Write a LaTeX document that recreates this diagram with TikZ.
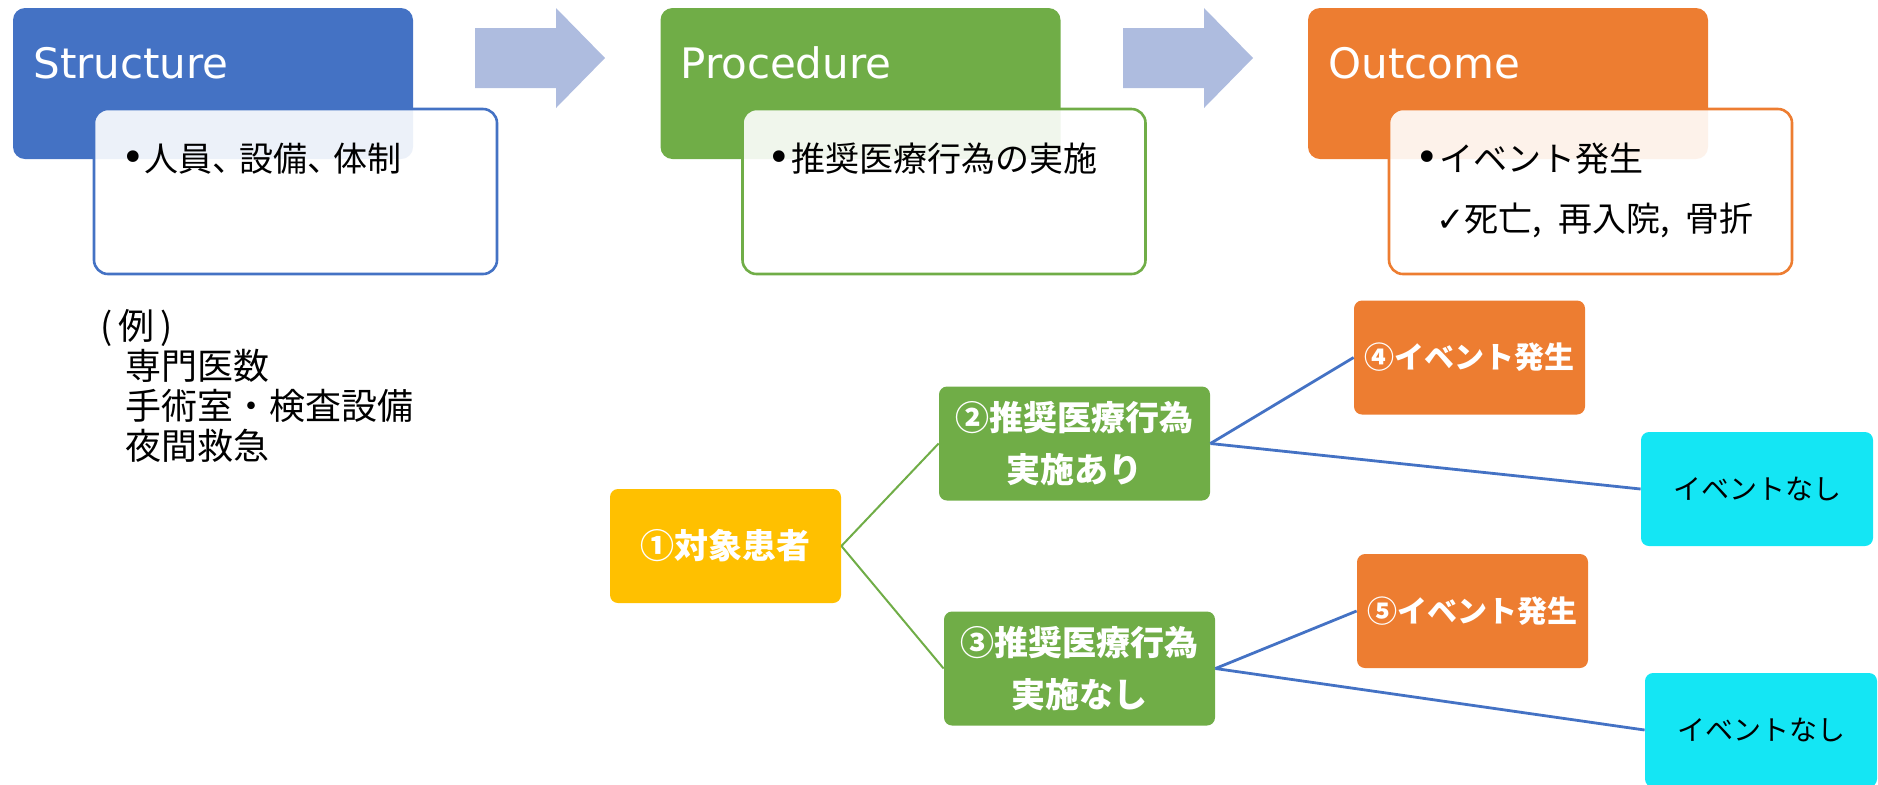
\documentclass[tikz,border=0pt]{standalone}
\usepackage{fontspec}
\setmainfont{DejaVu Sans}
\newfontfamily\jp{Noto Sans CJK JP}

\definecolor{sblue}{HTML}{4472C4}
\definecolor{pgreen}{HTML}{70AD47}
\definecolor{oorange}{HTML}{ED7D31}
\definecolor{arrowblue}{HTML}{AEBCDF}
\definecolor{pyellow}{HTML}{FFC000}
\definecolor{ncyan}{HTML}{14E6F4}

\newcommand{\blt}{{\rmfamily\fontsize{20pt}{20pt}\selectfont •}}

\tikzset{
  headbox/.style={fill=#1, rounded corners=6pt, minimum width=200pt, minimum height=75.5pt, inner sep=0pt},
  subbox/.style={draw=#1, line width=1.3pt, fill=white, fill opacity=0.9, rounded corners=7pt,
    minimum width=201.5pt, minimum height=82.5pt, inner sep=0pt},
  title/.style={anchor=base west, inner sep=0pt, text=white, font=\fontsize{21pt}{25pt}\selectfont},
  item/.style={anchor=base west, inner sep=0pt, font=\jp\fontsize{17pt}{20pt}\selectfont},
  exline/.style={anchor=base west, inner sep=0pt, font=\jp\fontsize{18pt}{20pt}\selectfont},
  treebox/.style={fill=#1, rounded corners=4pt, minimum width=115.5pt, minimum height=57pt, inner sep=0pt,
    align=center, text=white, font=\jp\bfseries\fontsize{17pt}{26pt}\selectfont},
  nonebox/.style={fill=ncyan, rounded corners=4pt, minimum width=116pt, minimum height=57pt, inner sep=0pt,
    font=\jp\fontsize{14pt}{17pt}\selectfont},
}

\begin{document}
\begin{tikzpicture}[x=0.5pt, y=-0.5pt]
\useasboundingbox (0,0) rectangle (1878,784);

% Top row
\node[headbox=sblue] (S) at (213,83.5) {};
\node[headbox=pgreen] (P) at (860.5,83.5) {};
\node[headbox=oorange] (O) at (1508,83.5) {};

\node[subbox=sblue] (Ssub) at (295.5,191.5) {};
\node[subbox=pgreen] (Psub) at (944,191.5) {};
\node[subbox=oorange] (Osub) at (1590.5,191.5) {};

\foreach \x in {475,1123}
  \fill[arrowblue] (\x,28) -- (\x+81,28) -- (\x+81,8) -- (\x+130,58) -- (\x+81,108) -- (\x+81,88) -- (\x,88) -- cycle;

\node[title] (Stitle) at (33,78) {Structure};
\node[title] (Ptitle) at (680,78) {Procedure};
\node[title] (Otitle) at (1328,78) {Outcome};

\node[item] (Sitem) at (121,171) {\blt 人員、\hspace{-4pt}設備、\hspace{-4pt}体制};
\node[item] (Pitem) at (767,171) {\blt 推奨医療行為の実施};
\node[item] (Oitem) at (1415,171) {\blt イベント発生};
\node[item] (Ocheck) at (1436,231) {{\rmfamily ✓}死亡,\hspace{8pt}再入院,\hspace{8pt}骨折};

% Example
\node[exline] (ex) at (100,339) {(\,例\,)};
\foreach \t [count=\i] in {専門医数,手術室・検査設備,夜間救急}
  \node[exline] (ex\i) at (125,339+40*\i) {\t};

% Tree
\node[treebox=pyellow] (target) at (725.5,546) {①対象患者};
\node[treebox=pgreen, minimum width=135.5pt] (done) at (1074.5,443.5) {②推奨医療行為\\実施あり};
\node[treebox=pgreen, minimum width=135.5pt] (notdone) at (1079.5,668.5) {③推奨医療行為\\実施なし};
\node[treebox=oorange, font=\jp\bfseries\fontsize{15pt}{18pt}\selectfont] (ev4) at (1469.5,357.5) {④イベント発生};
\node[treebox=oorange, font=\jp\bfseries\fontsize{15pt}{18pt}\selectfont] (ev5) at (1472.5,611) {⑤イベント発生};
\node[nonebox] (none4) at (1757,489) {イベントなし};
\node[nonebox] (none5) at (1761,730) {イベントなし};

\draw[pgreen, line width=1pt] (target.east) -- (done.west);
\draw[pgreen, line width=1pt] (target.east) -- (notdone.west);
\draw[sblue, line width=1.4pt] (done.east) -- (ev4.west);
\draw[sblue, line width=1.4pt] (done.east) -- (none4.west);
\draw[sblue, line width=1.4pt] (notdone.east) -- (ev5.west);
\draw[sblue, line width=1.4pt] (notdone.east) -- (none5.west);

\end{tikzpicture}
\end{document}
